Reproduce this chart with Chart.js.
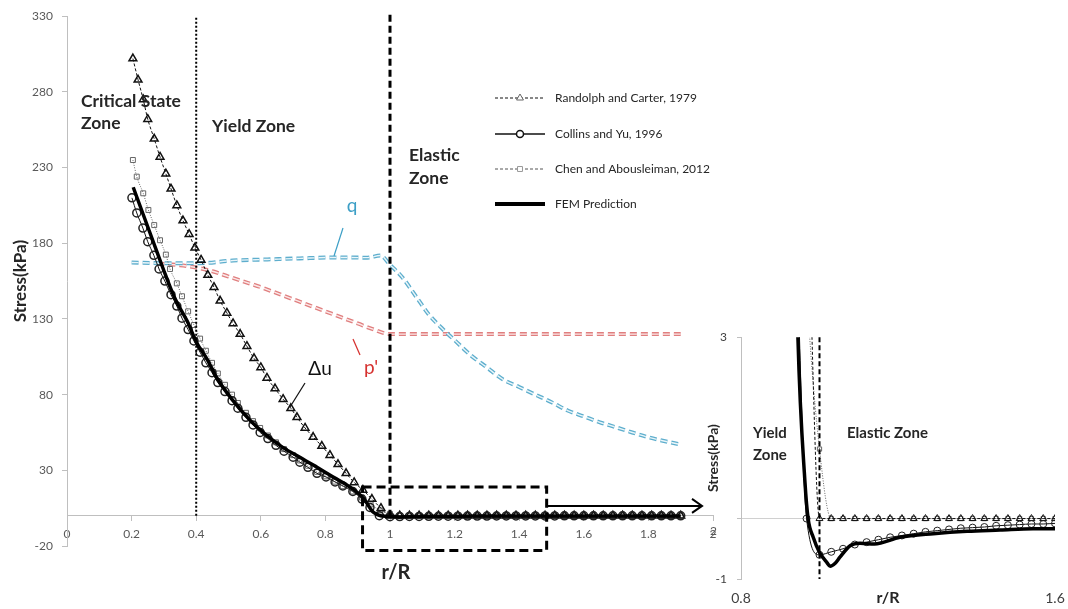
<!DOCTYPE html>
<html>
<head>
<meta charset="utf-8">
<script src="https://cdn.jsdelivr.net/npm/chart.js@4.4.1/dist/chart.umd.min.js"></script>
<style>
  html, body { margin: 0; padding: 0; background: #fff; }
  #wrap { position: relative; width: 1068px; height: 609px; }
  #mainChart { position: absolute; left: 0; top: 0; }
  #zoomChart { position: absolute; left: 700px; top: 320px; }
</style>
</head>
<body>
<div id="wrap">
  <canvas id="mainChart" width="1068" height="609"></canvas>
  <canvas id="zoomChart" width="368" height="289"></canvas>
</div>
<script>
const FONT = 'Lato, "Open Sans", sans-serif';

const seriesNames = ['Randolph and Carter, 1979', 'Collins and Yu, 1996', 'Chen and Abousleiman, 2012', 'FEM Prediction'];

// r/R stations beyond the cavity wall (shared by the analytical solutions)
const tailX = [1.03, 1.06, 1.09, 1.12, 1.15, 1.18, 1.21, 1.24, 1.27, 1.30,
               1.33, 1.36, 1.39, 1.42, 1.45, 1.48, 1.51, 1.54, 1.57, 1.60,
               1.63, 1.66, 1.69, 1.72, 1.75, 1.78, 1.81, 1.84, 1.87, 1.90];

// Randolph and Carter, 1979
const rcX = [0.204, 0.22, 0.236, 0.25, 0.27, 0.288, 0.306, 0.322, 0.34, 0.359,
             0.378, 0.396, 0.415, 0.436, 0.455, 0.474, 0.495, 0.514, 0.536, 0.557,
             0.579, 0.6, 0.619, 0.644, 0.669, 0.693, 0.712, 0.737, 0.762, 0.789,
             0.814, 0.839, 0.864, 0.889, 0.916, 0.944, 0.972, 1.0];
const rcY = [302, 288, 275, 262, 249, 237, 226, 216, 205, 195,
             186, 177, 169, 159, 151, 142, 134, 127, 120, 112,
             104, 98, 91, 84, 77, 71, 65, 58, 52, 46,
             40, 34, 28, 22, 17, 11, 5, 0];
const rcTail = [0, 0, 0, 0, 0, 0, 0, 0, 0, 0, 0, 0, 0, 0, 0,
                0, 0, 0, 0, 0, 0, 0, 0, 0, 0, 0, 0, 0, 0, 0];

// Collins and Yu, 1996
const cyX = [0.201, 0.216, 0.235, 0.25, 0.269, 0.285, 0.303, 0.322, 0.34, 0.356,
             0.375, 0.393, 0.412, 0.43, 0.449, 0.467, 0.489, 0.511, 0.529, 0.554,
             0.576, 0.598, 0.622, 0.647, 0.672, 0.7, 0.721, 0.746, 0.774, 0.802,
             0.83, 0.854, 0.885, 0.913, 0.938, 0.967, 1.0];
const cyY = [210, 200, 190, 181, 172, 163, 155, 146, 138.5, 130.5,
             123, 115.5, 108, 101, 94.5, 88, 82, 76, 71, 65,
             60, 55, 51, 46.5, 42.6, 38.7, 35.4, 32, 28, 25.6,
             22.3, 19.7, 16, 11, 5.5, 0, -0.6];
const cyTail = [-0.55, -0.5, -0.43, -0.39, -0.35, -0.31, -0.28, -0.25, -0.22, -0.2,
                -0.18, -0.16, -0.15, -0.14, -0.12, -0.11, -0.1, -0.09, -0.09, -0.08,
                -0.08, -0.07, -0.07, -0.07, -0.06, -0.06, -0.06, -0.05, -0.05, -0.05];

// Chen and Abousleiman, 2012
const caX = [0.204, 0.216, 0.236, 0.252, 0.27, 0.288, 0.306, 0.319, 0.34, 0.356,
             0.375, 0.393, 0.412, 0.43, 0.449, 0.467, 0.489, 0.511, 0.529, 0.554,
             0.576, 0.598, 0.622, 0.647, 0.672, 0.7, 0.721, 0.746, 0.774, 0.802,
             0.83, 0.854, 0.885, 0.913, 0.94, 0.97, 1.0];
const caY = [235, 224, 213, 202, 192, 182, 172.5, 163, 153.5, 145,
             135, 126, 117, 109, 101, 94, 86.5, 80, 74.5, 68,
             62.5, 58, 53, 48.5, 44, 40, 36.5, 33, 29, 26,
             22.5, 19.5, 16, 12, 7.5, 3.5, 1.15];
const caTail = [0, 0, 0, 0, 0, 0, 0, 0, 0, 0, 0, 0, 0, 0, 0,
                0, 0, 0, 0, 0, 0, 0, 0, 0, 0, 0, 0, 0, 0, 0];

// FEM prediction (excess pore pressure)
const femX = [0.205, 0.236, 0.267, 0.298, 0.325, 0.34, 0.372, 0.402, 0.433, 0.464,
              0.514, 0.567, 0.619, 0.669, 0.721, 0.774, 0.824, 0.876, 0.92, 0.945,
              0.963, 0.971, 0.984, 1.0, 1.019, 1.027, 1.04, 1.052, 1.078, 1.103,
              1.14, 1.205, 1.29, 1.376, 1.46, 1.544, 1.6, 1.75, 1.9];
const femY = [217, 199, 181, 163, 148, 141, 128.6, 114, 103.7, 91,
              76, 63, 53, 45, 38.7, 32, 25.6, 19, 11, 3,
              0.6, 0, -0.31, -0.56, -0.73, -0.79, -0.74, -0.64, -0.45, -0.41,
              -0.42, -0.31, -0.25, -0.21, -0.19, -0.17, -0.17, -0.14, -0.12];

// deviatoric stress q
const qX = [0.2, 0.3, 0.41, 0.514, 0.62, 0.72, 0.824, 0.93, 0.97, 1.0,
            1.04, 1.08, 1.12, 1.16, 1.2, 1.25, 1.3, 1.35, 1.4, 1.45,
            1.5, 1.55, 1.6, 1.65, 1.7, 1.75, 1.8, 1.9];
const qY = [167.3, 166.8, 166.8, 168.6, 169.3, 170, 170.6, 170.5, 171.9, 165.8,
            157, 145, 133, 124, 116, 106, 98, 90, 85, 80,
            75, 69.5, 65.6, 61.7, 58.4, 55, 51.8, 47];

// mean effective stress p'
const pX = [0.28, 0.35, 0.4, 0.45, 0.5, 0.55, 0.6, 0.65, 0.7, 0.75,
            0.8, 0.85, 0.9, 0.95, 1.0, 1.45, 1.9];
const pY = [166.5, 165.5, 164, 161.5, 158, 154.5, 151, 147, 143, 139,
            135, 131, 127, 123, 120, 120, 120];

const xTicksMain = [0, 0.2, 0.4, 0.6, 0.8, 1, 1.2, 1.4, 1.6, 1.8, 2];
const yTicksMain = [-20, 30, 80, 130, 180, 230, 280, 330];
const xTicksZoom = [0.8, 1.6];
const yTicksZoom = [-1, 0, 3];

// zone boundaries and the zoom window (data units)
const yieldBoundary = 0.4;
const elasticBoundary = 1.0;
const zoomBox = { x0: 0.915, x1: 1.485, y0: -23, y1: 19 };
const arrowY = 6.5, arrowEnd = 1.966;

const pts = (xs, ys) => xs.map((v, i) => ({ x: v, y: ys[i] }));

const rcData = pts(rcX.concat(tailX), rcY.concat(rcTail));
const cyData = pts(cyX.concat(tailX), cyY.concat(cyTail));
const caData = pts(caX.concat(tailX), caY.concat(caTail));
const femData = pts(femX, femY);
const qData = pts(qX, qY);
const pData = pts(pX, pY);

function solutionSets(r, bw) {
  return [
    { label: seriesNames[3], data: femData, borderColor: '#000', borderWidth: 3.5, pointRadius: 0 },
    { label: seriesNames[1], data: cyData, borderColor: '#111', borderWidth: 1, pointStyle: 'circle',
      pointRadius: r, pointBorderColor: '#222', pointBackgroundColor: 'rgba(255,255,255,0)', pointBorderWidth: bw },
    { label: seriesNames[0], data: rcData, borderColor: '#111', borderWidth: 1, borderDash: [3, 2],
      pointStyle: 'triangle', pointRadius: r + 0.5, pointBorderColor: '#111', pointBackgroundColor: 'rgba(255,255,255,0)', pointBorderWidth: bw },
    { label: seriesNames[2], data: caData, borderColor: '#666', borderWidth: 1, borderDash: [1, 1.5],
      pointStyle: 'rect', pointRadius: r - 0.5, pointBorderColor: '#666', pointBackgroundColor: 'rgba(255,255,255,0)', pointBorderWidth: 1 }
  ];
}

function line(ctx, x1, y1, x2, y2) {
  ctx.beginPath(); ctx.moveTo(x1, y1); ctx.lineTo(x2, y2); ctx.stroke();
}

function text(ctx, str, x, y, font, color, align) {
  ctx.font = font;
  ctx.fillStyle = color;
  ctx.textAlign = align || 'left';
  ctx.textBaseline = 'alphabetic';
  ctx.fillText(str, x, y);
}

const mainDecor = {
  id: 'mainDecor',
  afterDatasetsDraw(chart) {
    const { ctx, scales: { x, y } } = chart;
    ctx.save();
    ctx.strokeStyle = '#000';
    // critical state / yield boundary
    ctx.lineWidth = 2;
    ctx.setLineDash([2, 2]);
    const xy = x.getPixelForValue(yieldBoundary);
    line(ctx, xy, y.getPixelForValue(329), xy, y.getPixelForValue(0));
    // yield / elastic boundary
    ctx.lineWidth = 3;
    ctx.setLineDash([7, 4]);
    const xe = x.getPixelForValue(elasticBoundary);
    line(ctx, xe, y.getPixelForValue(331), xe, y.getPixelForValue(0));
    // zoom window
    const bx0 = x.getPixelForValue(zoomBox.x0), bx1 = x.getPixelForValue(zoomBox.x1);
    const by0 = y.getPixelForValue(zoomBox.y0), by1 = y.getPixelForValue(zoomBox.y1);
    ctx.setLineDash([9, 5]);
    ctx.strokeRect(bx0, by1, bx1 - bx0, by0 - by1);
    // arrow to the close-up
    ctx.setLineDash([]);
    ctx.lineWidth = 2;
    const ay = y.getPixelForValue(arrowY), ax = x.getPixelForValue(arrowEnd);
    line(ctx, bx1, ay, ax, ay);
    ctx.beginPath();
    ctx.moveTo(ax - 10, ay - 7); ctx.lineTo(ax, ay); ctx.lineTo(ax - 10, ay + 7);
    ctx.stroke();
    ctx.restore();
  },
  afterDraw(chart) {
    const { ctx } = chart;
    ctx.save();
    const bold = 'bold 17.5px ' + FONT;
    text(ctx, 'Critical State', 81, 107, bold, '#262626');
    text(ctx, 'Zone', 81, 129, bold, '#262626');
    text(ctx, 'Yield Zone', 212, 132, bold, '#262626');
    text(ctx, 'Elastic', 409, 161, bold, '#262626');
    text(ctx, 'Zone', 409, 184, bold, '#262626');
    text(ctx, 'r/R', 396, 579, 'bold 20px ' + FONT, '#262626', 'center');

    // curve labels with leaders
    text(ctx, 'q', 352, 212, '19px ' + FONT, '#3d9fc6', 'center');
    ctx.lineWidth = 1.2;
    ctx.strokeStyle = '#3d9fc6';
    line(ctx, 343, 228, 334, 256);
    text(ctx, "p'", 371, 374, '19px ' + FONT, '#d6312f', 'center');
    ctx.strokeStyle = '#d6312f';
    line(ctx, 353, 339, 360, 355);
    text(ctx, '\u0394u', 320, 375, '19px ' + FONT, '#111', 'center');
    ctx.strokeStyle = '#111';
    line(ctx, 305, 383, 290, 407);

    // legend
    const rows = [98, 134, 169, 204];
    const lx0 = 495, lx1 = 545, lt = 555;
    const H = Chart.helpers;
    ctx.strokeStyle = '#111';
    ctx.lineWidth = 1;
    ctx.setLineDash([3, 2]);
    line(ctx, lx0, rows[0], lx1, rows[0]);
    ctx.setLineDash([]);
    ctx.fillStyle = '#fff';
    ctx.strokeStyle = '#666';
    H.drawPoint(ctx, { pointStyle: 'triangle', radius: 4, borderWidth: 1, rotation: 0 }, 520, rows[0]);
    ctx.strokeStyle = '#111';
    ctx.lineWidth = 1.5;
    line(ctx, lx0, rows[1], lx1, rows[1]);
    ctx.fillStyle = '#fff';
    H.drawPoint(ctx, { pointStyle: 'circle', radius: 3.5, borderWidth: 1, rotation: 0 }, 520, rows[1]);
    ctx.strokeStyle = '#555';
    ctx.lineWidth = 1;
    ctx.setLineDash([3, 2]);
    line(ctx, lx0, rows[2], lx1, rows[2]);
    ctx.setLineDash([]);
    ctx.strokeStyle = '#999';
    H.drawPoint(ctx, { pointStyle: 'rect', radius: 3.5, borderWidth: 1, rotation: 0 }, 520, rows[2]);
    ctx.strokeStyle = '#000';
    ctx.lineWidth = 4;
    line(ctx, lx0, rows[3], lx1, rows[3]);
    seriesNames.forEach((n, i) => text(ctx, n, lt, rows[i] + 4, '12px ' + FONT, '#262626'));
    ctx.restore();
  }
};

new Chart(document.getElementById('mainChart'), {
  type: 'line',
  data: {
    datasets: solutionSets(4, 1.5).concat([
      { label: 'q', data: qData, borderColor: '#eaf6fa', borderWidth: 1.4, borderDash: [7, 4], pointRadius: 0 },
      { label: 'q', data: qData, borderColor: '#5eaecd', borderWidth: 4, borderDash: [7, 4], pointRadius: 0 },
      { label: "p'", data: pData, borderColor: '#fbe9e9', borderWidth: 1.4, borderDash: [7, 4], pointRadius: 0 },
      { label: "p'", data: pData, borderColor: '#e07f7f', borderWidth: 4, borderDash: [7, 4], pointRadius: 0 }
    ])
  },
  options: {
    responsive: false,
    animation: false,
    events: [],
    layout: { padding: { left: 0, top: 13, right: 355, bottom: 63 } },
    elements: { line: { cubicInterpolationMode: 'monotone', fill: false } },
    plugins: { legend: { display: false }, tooltip: { enabled: false } },
    scales: {
      x: {
        type: 'linear', min: 0, max: 2, position: { y: 0 },
        afterBuildTicks: s => { s.ticks = xTicksMain.map(v => ({ value: v })); },
        ticks: { font: { family: FONT, size: 12 }, color: '#595959', padding: 6, maxRotation: 0,
                 callback: v => String(Number(v.toFixed(1))) },
        grid: { drawOnChartArea: false, tickLength: 5, color: '#bfbfbf' },
        border: { color: '#bfbfbf' }
      },
      y: {
        type: 'linear', min: -20, max: 330,
        afterBuildTicks: s => { s.ticks = yTicksMain.map(v => ({ value: v })); },
        afterFit: s => { s.width = 67; },
        ticks: { font: { family: FONT, size: 12 }, color: '#595959', padding: 9 },
        grid: { drawOnChartArea: false, tickLength: 5, color: '#bfbfbf' },
        border: { color: '#bfbfbf' },
        title: { display: true, text: 'Stress(kPa)', color: '#262626',
                 font: { family: FONT, size: 17, weight: 'bold' }, padding: { top: 10, bottom: 0 } }
      }
    }
  },
  plugins: [mainDecor]
});

const zoomDecor = {
  id: 'zoomDecor',
  afterDatasetsDraw(chart) {
    const { ctx, scales: { x, y } } = chart;
    ctx.save();
    ctx.strokeStyle = '#000';
    ctx.lineWidth = 2;
    ctx.setLineDash([5, 3]);
    const xe = x.getPixelForValue(elasticBoundary);
    line(ctx, xe, y.getPixelForValue(3), xe, y.getPixelForValue(-1));
    ctx.restore();
  },
  afterDraw(chart) {
    const { ctx, scales: { y } } = chart;
    ctx.save();
    const bold = 'bold 15px ' + FONT;
    text(ctx, 'Yield', 53, 118, bold, '#262626');
    text(ctx, 'Zone', 53, 140, bold, '#262626');
    text(ctx, 'Elastic Zone', 147, 118, bold, '#262626');
    text(ctx, 'r/R', 188, 283, 'bold 16px ' + FONT, '#262626', 'center');
    text(ctx, '2', 17, y.getPixelForValue(-0.2) + 4, '12px ' + FONT, '#595959', 'right');
    ctx.restore();
  }
};

new Chart(document.getElementById('zoomChart'), {
  type: 'line',
  data: { datasets: solutionSets(3.5, 1) },
  options: {
    responsive: false,
    animation: false,
    events: [],
    layout: { padding: { left: 0, top: 17, right: 13, bottom: 0 } },
    elements: { line: { cubicInterpolationMode: 'monotone', fill: false } },
    plugins: { legend: { display: false }, tooltip: { enabled: false } },
    scales: {
      x: {
        type: 'linear', min: 0.8, max: 1.6,
        afterBuildTicks: s => { s.ticks = xTicksZoom.map(v => ({ value: v })); },
        afterFit: s => { s.height = 30; },
        ticks: { font: { family: FONT, size: 14 }, color: '#404040', padding: 3, maxRotation: 0,
                 callback: v => v.toFixed(1) },
        grid: { display: false },
        border: { display: false }
      },
      y: {
        type: 'linear', min: -1, max: 3,
        afterBuildTicks: s => { s.ticks = yTicksZoom.map(v => ({ value: v })); },
        afterFit: s => { s.width = 41; },
        ticks: { font: { family: FONT, size: 12 }, color: '#404040', padding: 10,
                 callback: v => (v === 0 ? '' : String(v)) },
        grid: { color: c => (c.tick && c.tick.value === 0 ? '#d0d0d0' : 'rgba(0,0,0,0)'),
                tickColor: '#bfbfbf', tickLength: 4 },
        border: { color: '#bfbfbf' },
        title: { display: true, text: 'Stress(kPa)', color: '#262626',
                 font: { family: FONT, size: 14, weight: 'bold' }, padding: { top: 5, bottom: 0 } }
      }
    }
  },
  plugins: [zoomDecor]
});
</script>
</body>
</html>
